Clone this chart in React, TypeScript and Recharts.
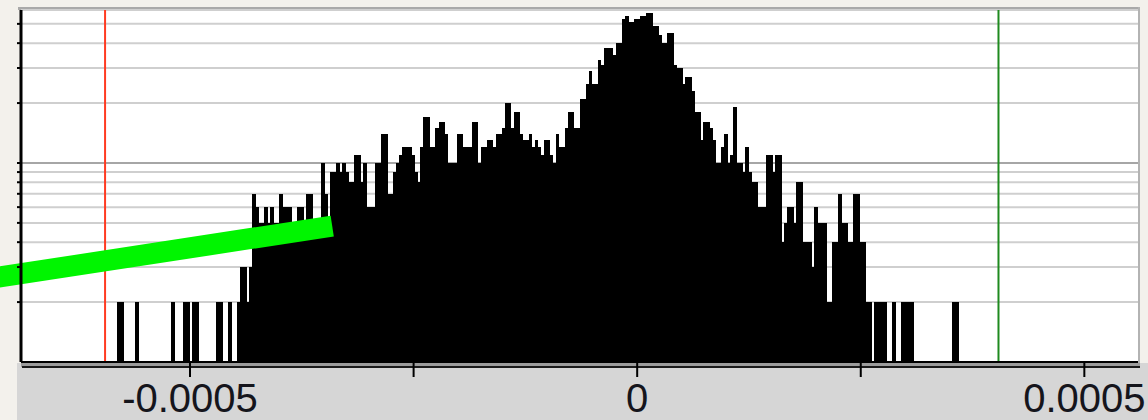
import { ComposedChart, Bar, XAxis, YAxis, CartesianGrid, ReferenceLine } from 'recharts'

// histogram bins: first bin centre and bin width (x units)
const binStart = -0.00058
const binWidth = 0.00000336

// counts per bin (log y, 1 = empty bin)
const leftTail = [
  2, 2, 1, 1, 1, 1, 2, 1, 1, 1, 1, 1, 1, 1, 1, 1, 1, 1, 2, 1, 1, 1,
  2, 2, 1, 2, 2, 1, 1, 1, 1, 1, 1, 2, 2, 1, 1, 2, 1, 1, 2, 3, 3, 2,
]
const body = [
  3, 7, 6, 5, 5, 6, 5, 6, 5, 5, 7, 6, 6, 6, 5, 5, 6, 6, 5, 7, 7, 5, 5, 5,
  10, 7, 5, 9, 9, 10, 9, 10, 9, 8, 8, 11, 11, 8, 10, 6, 6, 6, 10, 10, 14, 14,
  7, 7, 9, 10, 11, 12, 12, 12, 11, 9, 8, 12, 17, 17, 12, 12, 15, 16, 16, 14,
  10, 10, 10, 14, 14, 12, 12, 12, 16, 16, 10, 12, 12, 13, 13, 12, 14, 14, 15,
  20, 20, 15, 18, 18, 14, 13, 13, 14, 12, 13, 12, 11, 13, 13, 11, 10, 14, 12,
  12, 15, 18, 18, 15, 15, 21, 21, 25, 29, 25, 25, 33, 31, 38, 38, 38, 35, 40,
  40, 53, 55, 51, 51, 53, 53, 55, 55, 57, 57, 49, 49, 44, 40, 40, 45, 45, 31,
  30, 30, 25, 27, 27, 23, 18, 18, 13, 16, 16, 15, 13, 10, 10, 12, 14, 10, 11,
  19, 10, 10, 9, 12, 9, 8, 8, 6, 6, 6, 11, 11, 9, 11, 11, 4, 5, 6, 6, 5, 8, 8,
  4, 4, 4, 3, 6, 5, 5, 5, 2, 2, 4, 4, 7, 5, 5, 4, 4, 7, 7, 4, 4, 2, 2,
]
const rightTail = [
  1, 2, 2, 2, 2, 1, 1, 2, 1, 1, 2, 2, 2, 2, 1, 1, 1, 1, 1, 1, 1, 1, 1, 1, 1, 1, 1, 2, 2,
]

const counts = [...leftTail, ...body, ...rightTail]
const bins = counts.map((count, i) => ({ x: binStart + i * binWidth, count }))

const xDomain = [-0.000689, 0.00056]
const xTicks = [-0.0005, -0.00025, 0, 0.00025, 0.0005]
const xLabels = [-0.0005, 0, 0.0005]
const yDomain = [1, 58.7]
const yTicks = [2, 3, 4, 5, 6, 7, 8, 9, 10, 20, 30, 40, 50]
const decadeTick = 10

const lowLimit = -0.000595
const highLimit = 0.000404
const pointer = [
  { x: -0.00075, y: 2.52 },
  { x: -0.000341, y: 4.82 },
]

const W = 1148
const H = 420

const abs = (left: number, top: number, width: number, height: number, background: string) => (
  <div style={{ position: 'absolute', left, top, width, height, background }} />
)

// bins are drawn a hair wider so neighbours touch without seams
const binShape = (p: any) =>
  p.height > 0 ? (
    <rect x={p.x} y={p.y} width={p.width + 0.7} height={p.height} fill="#000" shapeRendering="crispEdges" />
  ) : (
    <g />
  )

// grid line, darker on the decade tick
const gridLine = (p: any) => (
  <line
    key={`g-${p.index}`}
    x1={p.x1}
    x2={p.x2}
    y1={p.y1}
    y2={p.y2}
    stroke={yTicks[p.index] === decadeTick ? '#a6a6a6' : '#cfcfcf'}
    strokeWidth={2}
  />
)

export default function App() {
  return (
    <div style={{ position: 'absolute', left: 0, top: 0, width: W, height: H, background: '#f3f1ec' }}>
      {abs(21, 10, 1117, 352, '#ffffff')}
      {abs(18, 7, 1122, 3, '#a9a9a9')}
      {abs(1138, 7, 2, 356, '#b3b3b3')}
      {abs(17, 363, W - 17, H - 363, '#d6d6d6')}
      {abs(21, 363, 1119, 4, '#9c9c9c')}
      {abs(22, 366, 1118, 2, '#1a1a1a')}
      <div style={{ position: 'absolute', left: 0, top: 0 }}>
        <ComposedChart
          width={W}
          height={H}
          data={bins}
          margin={{ top: 10, right: 10, bottom: 0, left: 0 }}
          barCategoryGap={0}
          style={{ overflow: 'visible' }}
        >
          <CartesianGrid vertical={false} horizontal={gridLine} />
          <XAxis
            dataKey="x"
            type="number"
            domain={xDomain}
            allowDataOverflow
            ticks={xTicks}
            interval={0}
            height={58}
            axisLine={{ stroke: '#000', strokeWidth: 2 }}
            tickLine={{ stroke: '#000', strokeWidth: 2 }}
            tickSize={15}
            tickMargin={7}
            tick={{ fontSize: 40, fill: '#15151c', fontFamily: '"Liberation Sans", Arial, sans-serif' }}
            tickFormatter={(v: number) => (xLabels.includes(v) ? String(v) : '')}
          />
          <YAxis
            type="number"
            scale="log"
            domain={yDomain}
            allowDataOverflow
            ticks={yTicks}
            interval={0}
            width={21}
            axisLine={{ stroke: '#000', strokeWidth: 3 }}
            tickLine={{ stroke: '#000', strokeWidth: 2 }}
            tickSize={4}
            tick={{ fontSize: 1, fill: 'none' }}
            tickFormatter={() => ''}
          />
          <Bar dataKey="count" fill="#000" barSize={3} shape={binShape} isAnimationActive={false} />
          <ReferenceLine x={lowLimit} stroke="#ff3b22" strokeWidth={2} ifOverflow="visible" />
          <ReferenceLine x={highLimit} stroke="#1f8a1f" strokeWidth={2} ifOverflow="visible" />
          <ReferenceLine segment={pointer} stroke="#00f500" strokeWidth={21} ifOverflow="visible" />
        </ComposedChart>
      </div>
    </div>
  )
}
